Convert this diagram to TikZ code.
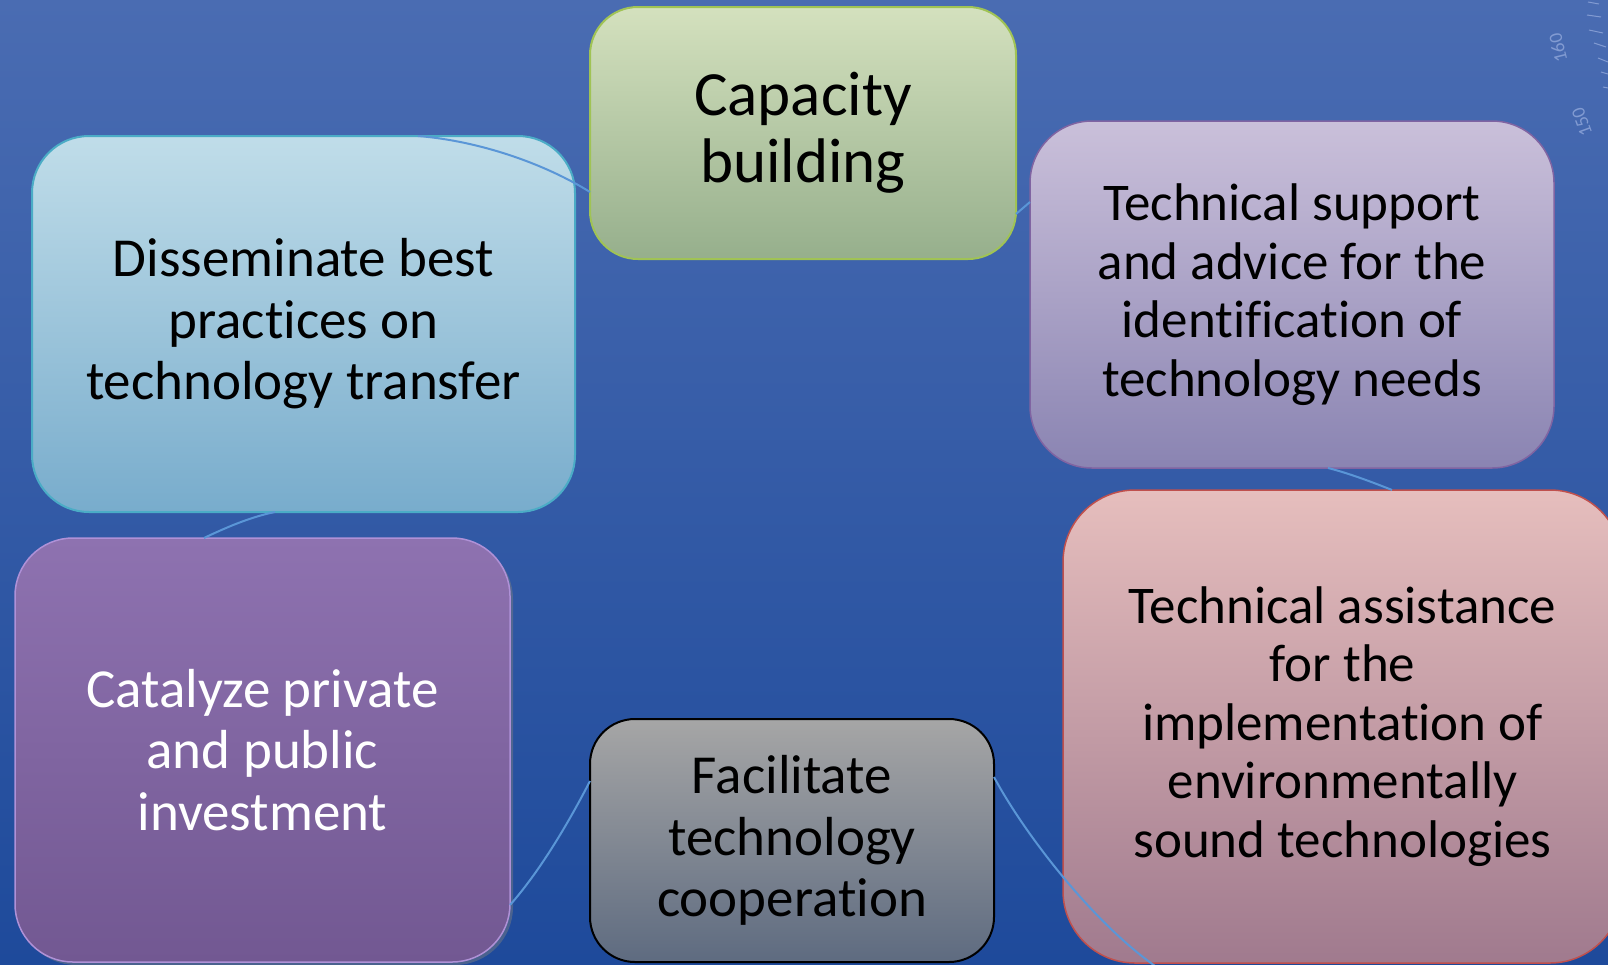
\documentclass[tikz,border=0pt]{standalone}
\usepackage{fontspec}
\setmainfont{Carlito}[Ligatures=NoCommon]
\usetikzlibrary{shadows}
\definecolor{bgtop}{RGB}{74,108,178}
\definecolor{bgbot}{RGB}{30,74,155}
\definecolor{arcblue}{RGB}{90,150,215}
\definecolor{dialcol}{RGB}{130,155,210}
\tikzset{
  box/.style={rounded corners=#1, inner sep=0pt, outer sep=0pt, align=center, text=black},
  arcline/.style={draw=arcblue, line width=2pt},
  dialtick/.style={draw=dialcol, line width=1pt},
  dialtext/.style={text=dialcol, font=\fontsize{19}{19}\selectfont, inner sep=0pt},
  bigtxt/.style={font=\fontsize{55}{61.5}\selectfont},
  midtxt/.style={font=\fontsize{53}{58.5}\selectfont}
}
\begin{document}
\begin{tikzpicture}[x=1pt,y=-1pt]
\useasboundingbox (0,0) rectangle (1608,964);
\clip (0,0) rectangle (1608,964);
\shade[top color=bgtop, bottom color=bgbot] (0,0) rectangle (1608,964);

% faint dial decoration
\node[dialtext, rotate=104] (d160) at (1558,48) {160};
\node[dialtext, rotate=110] (d150) at (1582,122) {150};
\draw[dialtick] (1588,2) -- (1599,4);
\draw[dialtick] (1587,15) -- (1601,17);
\draw[dialtick] (1589,30) -- (1603,33);
\draw[dialtick] (1594,43) -- (1606,47);
\draw[dialtick] (1598,58) -- (1608,62);
\draw[dialtick] (1601,72) -- (1608,74);
\draw[dialtick] (1603,87) -- (1608,88);

% boxes
\node[box=48pt, minimum width=426pt, minimum height=252pt,
      top color={rgb,255:red,212;green,225;blue,190}, bottom color={rgb,255:red,150;green,175;blue,140},
      draw={rgb,255:red,160;green,195;blue,85}, line width=2pt,
      font=\fontsize{63}{67}\selectfont] (cap) at (803,133) {Capacity\\building};

\node[box=57pt, minimum width=543pt, minimum height=376pt,
      top color={rgb,255:red,192;green,221;blue,233}, bottom color={rgb,255:red,120;green,172;blue,204},
      draw={rgb,255:red,75;green,172;blue,198}, line width=2pt, bigtxt] (dis) at (303.5,324)
      {Disseminate best\\practices on\\technology transfer};

\node[box=62pt, minimum width=524pt, minimum height=347pt,
      top color={rgb,255:red,202;green,192;blue,218}, bottom color={rgb,255:red,138;green,132;blue,178},
      draw={rgb,255:red,128;green,100;blue,162}, line width=1.5pt, midtxt] (tsup) at (1292,294.5)
      {Technical support\\and advice for the\\identification of\\technology needs};

\node[box=72pt, minimum width=559pt, minimum height=473pt,
      top color={rgb,255:red,230;green,190;blue,189}, bottom color={rgb,255:red,160;green,122;blue,142},
      draw={rgb,255:red,192;green,80;blue,77}, line width=1.5pt, midtxt] (tec) at (1342.5,726.5)
      {Technical assistance\\for the\\implementation of\\environmentally\\sound technologies};

\node[box=58pt, minimum width=495pt, minimum height=424pt,
      top color={rgb,255:red,142;green,114;blue,176}, bottom color={rgb,255:red,114;green,88;blue,146},
      draw={rgb,255:red,175;green,145;blue,215}, line width=1.5pt, text=white, bigtxt,
      drop shadow={shadow xshift=3pt, shadow yshift=-3pt, opacity=0.45}] (cat) at (262.5,750)
      {Catalyze private\\and public\\investment};

\node[box=45pt, minimum width=404pt, minimum height=243pt,
      top color={rgb,255:red,166;green,166;blue,166}, bottom color={rgb,255:red,94;green,107;blue,128},
      draw=black, line width=2pt, bigtxt] (fac) at (792,840.5)
      {Facilitate\\technology\\cooperation};

% connectors (cycle arcs)
\coordinate (a4end) at (1158,968);
\draw[arcline] ([xshift=114.5pt]dis.north) .. controls +(62,5) and +(-45,-28) .. ([yshift=-59pt]cap.west);
\draw[arcline] ([yshift=-81pt]cap.east) -- ([yshift=92.5pt]tsup.west);
\draw[arcline] ([xshift=36pt]tsup.south) .. controls +(20,5) and +(-20,-8) .. ([xshift=49.5pt]tec.north);
\draw[arcline] ([yshift=63.5pt]fac.east) .. controls +(31,58) and +(-63,-43) .. (a4end);
\draw[arcline] ([yshift=59.5pt]fac.west) .. controls +(-20,39) and +(31,-35) .. ([yshift=-155pt]cat.east);
\draw[arcline] ([xshift=-58.5pt]cat.north) .. controls +(21,-10) and +(-25,5) .. ([xshift=-28.5pt]dis.south);
\end{tikzpicture}
\end{document}
